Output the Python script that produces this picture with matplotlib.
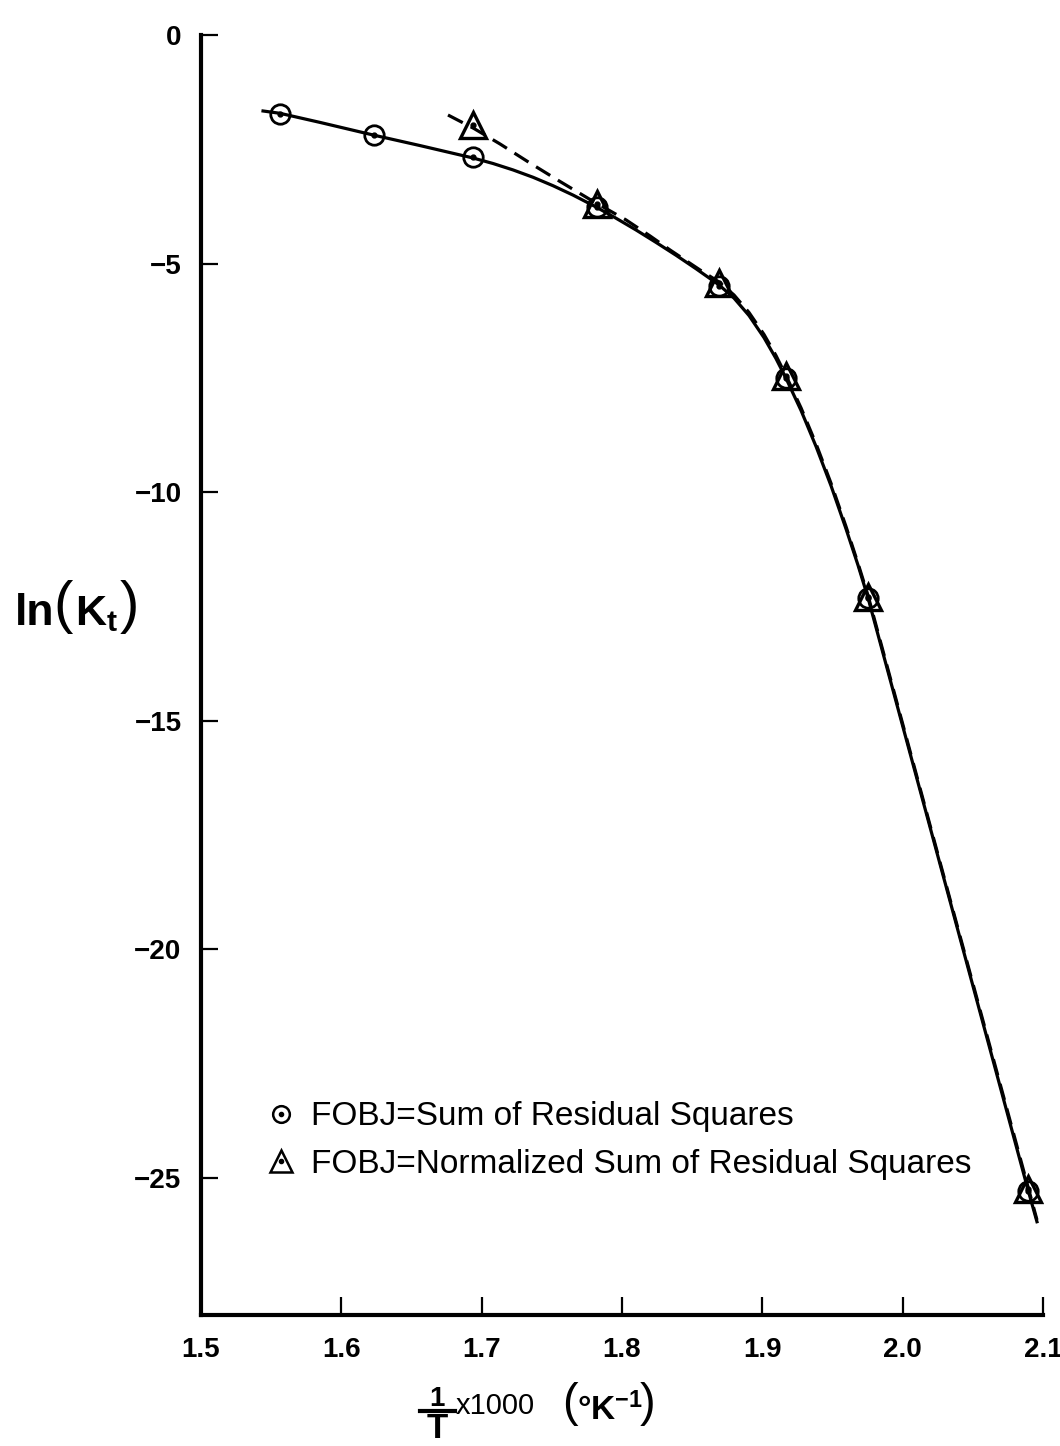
import matplotlib
matplotlib.use("Agg")
import matplotlib.pyplot as plt
from matplotlib.lines import Line2D
from matplotlib.legend_handler import HandlerTuple

# 1/T x 1000 (1/K) against ln(Kt) for the two objective functions
inv_t_sum = [1.556, 1.623, 1.694, 1.782, 1.869, 1.917, 1.975, 2.089]
lnk_sum = [-1.72, -2.19, -2.67, -3.76, -5.48, -7.50, -12.31, -25.28]
inv_t_norm = [1.694, 1.782, 1.869, 1.917, 1.975, 2.089]
lnk_norm = [-1.97, -3.70, -5.42, -7.46, -12.29, -25.24]

# fitted curve, FOBJ = sum of residual squares
fit_x_sum = [1.5442, 1.5563, 1.5848, 1.6226, 1.6561, 1.6938, 1.7081, 1.7223, 1.7366,
             1.7508, 1.7651, 1.7815, 1.7957, 1.8100, 1.8242, 1.8385, 1.8527, 1.8691,
             1.8798, 1.8905, 1.9012, 1.9097, 1.9168, 1.9276, 1.9383, 1.9490, 1.9596,
             1.9682, 1.9753, 2.0337, 2.0893, 2.0957]
fit_y_sum = [-1.662, -1.713, -1.912, -2.187, -2.419, -2.690, -2.811, -2.951, -3.112,
             -3.296, -3.502, -3.762, -4.007, -4.265, -4.536, -4.818, -5.112, -5.466,
             -5.755, -6.137, -6.621, -7.076, -7.504, -8.215, -9.003, -9.864, -10.80,
             -11.60, -12.31, -18.94, -25.26, -25.96]

# fitted curve, FOBJ = normalized sum of residual squares
fit_x_norm = [1.6760, 1.6945, 1.7131, 1.7344, 1.7558, 1.7772, 1.8029, 1.8200, 1.8342,
              1.8556, 1.8691, 1.8798, 1.8905, 1.9012, 1.9097, 1.9168, 1.9276, 1.9383,
              1.9490, 1.9596, 1.9682, 1.9753, 2.0337, 2.0694, 2.0957]
fit_y_norm = [-1.750, -2.045, -2.384, -2.800, -3.204, -3.598, -4.046, -4.396, -4.702,
              -5.140, -5.402, -5.687, -6.070, -6.551, -7.010, -7.448, -8.158, -8.946,
              -9.810, -10.75, -11.56, -12.26, -18.90, -22.94, -25.92]

yticks = [0, -5, -10, -15, -20, -25]
ytick_labels = ["0", "\u22125", "\u221210", "\u221215", "\u221220", "\u221225"]
xticks = [1.5, 1.6, 1.7, 1.8, 1.9, 2.0, 2.1]
xtick_labels = ["1.5", "1.6", "1.7", "1.8", "1.9", "2.0", "2.1"]

plt.rcParams["font.family"] = ["Liberation Sans", "DejaVu Sans"]
plt.rcParams["mathtext.fontset"] = "custom"
plt.rcParams["mathtext.rm"] = "Liberation Sans"
plt.rcParams["mathtext.bf"] = "Liberation Sans:bold"
plt.rcParams["mathtext.it"] = "Liberation Sans:italic"

W, H = 1060, 1446
fig = plt.figure(figsize=(W / 100, H / 100), dpi=100)
ax = fig.add_axes([201 / W, 1 - 1315 / H, (1043 - 201) / W, (1315 - 35) / H])

ax.plot(fit_x_sum, fit_y_sum, color="black", lw=2.3, zorder=2)
ax.plot(fit_x_norm, fit_y_norm, color="black", lw=2.3, ls=(0, (5.2, 2.8)), zorder=2)

ax.plot(inv_t_sum, lnk_sum, ls="none", marker="o", ms=14, mfc="none",
        mec="black", mew=2.0, zorder=3)
ax.plot(inv_t_sum, lnk_sum, ls="none", marker="o", ms=3.5, color="black", zorder=3)
ax.plot(inv_t_norm, lnk_norm, ls="none", marker="^", ms=19, mfc="none",
        mec="black", mew=2.4, zorder=3)
ax.plot(inv_t_norm, lnk_norm, ls="none", marker="o", ms=3.5, color="black", zorder=3)

ax.set_xlim(1.5, 2.1)
ax.set_ylim(-28.0, 0)
ax.spines["top"].set_visible(False)
ax.spines["right"].set_visible(False)
for s in ("left", "bottom"):
    ax.spines[s].set_linewidth(3.0)
ax.set_xticks(xticks)
ax.set_xticklabels(xtick_labels)
ax.set_yticks(yticks)
ax.set_yticklabels(ytick_labels)
ax.tick_params(axis="y", direction="in", length=12, width=1.6, pad=14,
               labelsize=20)
ax.tick_params(axis="x", direction="in", length=13, width=1.6, pad=16,
               labelsize=20)
for lab in ax.get_xticklabels() + ax.get_yticklabels():
    lab.set_fontweight("bold")

# legend with dotted circle / dotted triangle symbols
h_sum = (Line2D([], [], ls="none", marker="o", ms=12, mfc="none", mec="black", mew=1.8),
         Line2D([], [], ls="none", marker="o", ms=3, color="black"))
h_norm = (Line2D([], [], ls="none", marker="^", ms=16, mfc="none", mec="black", mew=1.8),
          Line2D([], [], ls="none", marker="o", ms=3, color="black"))
ax.legend([h_sum, h_norm],
          ["FOBJ=Sum of Residual Squares", "FOBJ=Normalized Sum of Residual Squares"],
          handler_map={tuple: HandlerTuple()}, loc="lower left",
          bbox_to_anchor=(0.04, 0.082), frameon=False,
          prop={"family": "Liberation Sans", "size": 24},
          handlelength=1.0, handletextpad=0.4, labelspacing=0.5)

# y axis title: ln(Kt)
fig.text(15 / W, 1 - 625 / H, "ln", fontsize=32, fontweight="bold",
         ha="left", va="baseline")
fig.text(53 / W, 1 - 607 / H, "(", fontsize=42, ha="left", va="center")
fig.text(75 / W, 1 - 625 / H, r"$\mathbf{K_t}$", fontsize=31,
         ha="left", va="baseline")
fig.text(120 / W, 1 - 607 / H, ")", fontsize=42, ha="left", va="center")

# x axis title: 1/T x 1000 (°K^-1)
fig.text(437 / W, 1 - 1406 / H, "1", fontsize=20, fontweight="bold",
         ha="center", va="baseline")
fig.add_artist(Line2D([420 / W, 455 / W], [1 - 1411 / H, 1 - 1411 / H],
                      color="black", lw=3.0))
fig.text(437 / W, 1 - 1445 / H, "T", fontsize=25, fontweight="bold",
         ha="center", va="bottom")
fig.text(456 / W, 1 - 1414 / H, "x1000", fontsize=21, ha="left", va="baseline")
fig.text(562 / W, 1 - 1404 / H, "(", fontsize=34, ha="left", va="center")
fig.text(577 / W, 1 - 1420 / H, r"$\mathbf{\degree K}^{\mathbf{-1}}$",
         fontsize=24, ha="left", va="baseline")
fig.text(640 / W, 1 - 1404 / H, ")", fontsize=34, ha="left", va="center")

fig.savefig("out.png", dpi=100)
